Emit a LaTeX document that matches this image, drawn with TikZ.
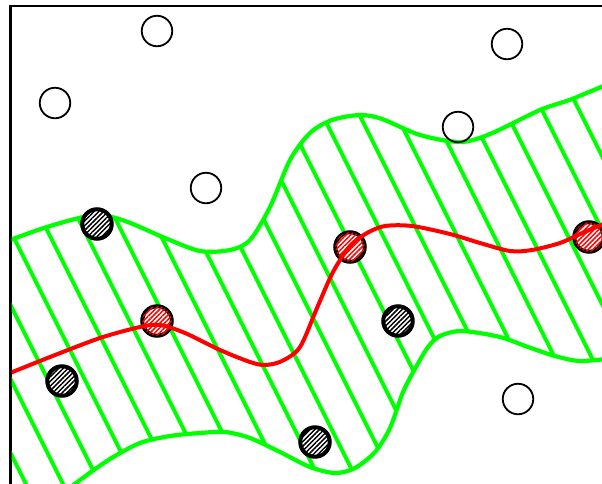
\documentclass[tikz,border=0pt]{standalone}
\usepackage{xcolor}
\usetikzlibrary{patterns.meta}

\tikzset{
  band/.style={green, line width=4.2pt},
  hatch/.style={green, line width=4pt},
  track/.style={red, line width=4pt},
  free/.style={circle, draw=black, line width=1.8pt, minimum size=30.5pt, inner sep=0pt},
  hit/.style={circle, draw=black, line width=4pt, minimum size=29.5pt, inner sep=0pt, fill=white,
    postaction={pattern={Lines[angle=45,distance=3.3pt,line width=1.5pt]}, pattern color=#1}},
  hit/.default=black
}

\begin{document}
\begin{tikzpicture}[x=1pt,y=-1pt]
\useasboundingbox (0,0) rectangle (602,483);
\begin{scope}
\clip (0,0) rectangle (602,483);
\draw[line width=2.2pt] (10.5,495) -- (10.5,6) -- (615,6);
\begin{scope}
\clip (11.6,7.1) rectangle (602,483);

\begin{scope}
\clip plot[smooth] coordinates {(-10,247) (10,240) (50,226) (95,215) (125,221) (165,238) (200,251) (230,250) (250,240) (270,207) (290,160) (310,133) (332,120) (360,115) (382,119) (420,135) (460,142) (490,134) (540,110) (572,99) (615,81)}
  -- plot[smooth] coordinates {(615,358) (580,361) (555,356) (528,347) (500,337) (462,331) (440,336) (428,347) (416,367) (403,392) (390,428) (375,452) (355,468) (335,473) (310,467) (280,452) (250,438) (225,432) (200,433) (170,436) (140,443) (110,459) (80,480) (50,503) (-10,550)} -- cycle;
\draw[hatch] (-216,0) -- (29,490);
\draw[hatch] (-179,0) -- (66,490);
\draw[hatch] (-142,0) -- (103,490);
\draw[hatch] (-105,0) -- (140,490);
\draw[hatch] (-68,0) -- (177,490);
\draw[hatch] (-31,0) -- (214,490);
\draw[hatch] (6,0) -- (251,490);
\draw[hatch] (43,0) -- (288,490);
\draw[hatch] (80,0) -- (325,490);
\draw[hatch] (117,0) -- (362,490);
\draw[hatch] (154,0) -- (399,490);
\draw[hatch] (191,0) -- (436,490);
\draw[hatch] (228,0) -- (473,490);
\draw[hatch] (265,0) -- (510,490);
\draw[hatch] (302,0) -- (547,490);
\draw[hatch] (339,0) -- (584,490);
\draw[hatch] (376,0) -- (621,490);
\draw[hatch] (413,0) -- (658,490);
\draw[hatch] (450,0) -- (695,490);
\draw[hatch] (487,0) -- (732,490);
\draw[hatch] (524,0) -- (769,490);
\end{scope}
\draw[band] plot[smooth] coordinates {(-10,247) (10,240) (50,226) (95,215) (125,221) (165,238) (200,251) (230,250) (250,240) (270,207) (290,160) (310,133) (332,120) (360,115) (382,119) (420,135) (460,142) (490,134) (540,110) (572,99) (615,81)};
\draw[band] plot[smooth] coordinates {(615,358) (580,361) (555,356) (528,347) (500,337) (462,331) (440,336) (428,347) (416,367) (403,392) (390,428) (375,452) (355,468) (335,473) (310,467) (280,452) (250,438) (225,432) (200,433) (170,436) (140,443) (110,459) (80,480) (50,503) (-10,550)};

\node[free] (f1) at (157,31) {};
\node[free] (f2) at (507,44) {};
\node[free] (f3) at (55,103) {};
\node[free] (f4) at (458,127) {};
\node[free] (f5) at (206,188) {};
\node[free] (f6) at (518,399) {};

\node[hit] (b1) at (97,224) {};
\node[hit] (b2) at (62,381) {};
\node[hit] (b3) at (398,321) {};
\node[hit] (b4) at (315,442) {};

\node[hit=red] (r1) at (157,321) {};
\node[hit=red] (r2) at (350,247) {};
\node[hit=red] (r3) at (589,237) {};

\draw[track] plot[smooth] coordinates {(-10,381) (10,373) (50,357) (100,338) (140,327) (160,325) (185,333) (220,350) (250,362) (265,365) (282,361) (300,347) (317,308) (333,272) (350,246) (367,233) (385,226) (412,226) (450,234) (480,243) (510,251) (532,250) (560,243) (580,234) (615,219)};
\end{scope}
\end{scope}
\end{tikzpicture}
\end{document}
